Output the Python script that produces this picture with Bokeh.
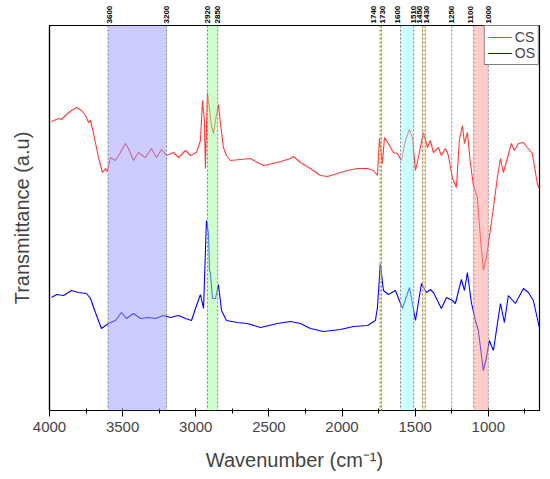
import math
from bokeh.plotting import figure
from bokeh.layouts import column
from bokeh.core.properties import value
from bokeh.models import Range1d, BoxAnnotation, Span, SingleIntervalTicker, FixedTicker, Legend, LegendItem
from bokeh.embed import file_html
from bokeh.resources import INLINE

# ---- data (arbitrary transmittance units) ----
wn_cs = [3986, 3938, 3918, 3891, 3850, 3815, 3781, 3754, 3733, 3720, 3699, 3665, 3638, 3617, 3604,
         3583, 3549, 3515, 3481, 3460, 3426, 3392, 3344, 3303, 3269, 3234, 3200, 3152, 3118, 3070,
         3036, 2995, 2968, 2954, 2941, 2934, 2920, 2893, 2879, 2865, 2845, 2831, 2811, 2790, 2763,
         2695, 2626, 2578, 2537, 2442, 2353, 2332, 2284, 2216, 2148, 2100, 2032, 1963, 1895, 1826,
         1785, 1758, 1744, 1724, 1710, 1683, 1649, 1621, 1594, 1567, 1539, 1519, 1498, 1478, 1444,
         1416, 1396, 1375, 1341, 1321, 1293, 1273, 1245, 1218, 1198, 1177, 1163, 1143, 1122, 1102,
         1075, 1054, 1034, 1013, 993, 965, 938, 917, 897, 870, 842, 822, 794, 760, 733, 699, 665, 651]
t_cs = [289, 292, 291, 295, 300, 303, 300, 295, 288, 290, 277, 253, 238, 242, 239,
        253, 250, 258, 267, 262, 250, 258, 253, 262, 253, 261, 255, 258, 253, 260,
        255, 258, 270, 310, 290, 242, 318, 285, 277, 290, 306, 287, 263, 255, 250,
        251, 252, 248, 245, 248, 252, 254, 248, 242, 235, 234, 237, 240, 242, 242,
        240, 235, 272, 247, 273, 267, 258, 257, 250, 270, 281, 273, 240, 253, 278,
        263, 270, 258, 263, 255, 262, 255, 232, 223, 270, 285, 267, 278, 247, 225,
        213, 173, 140, 153, 173, 203, 233, 252, 238, 252, 267, 260, 267, 268, 263, 257, 227, 222]

wn_os = [3986, 3952, 3904, 3850, 3802, 3747, 3720, 3686, 3645, 3597, 3549, 3508, 3474, 3426, 3378,
         3323, 3276, 3221, 3173, 3118, 3070, 3029, 3002, 2968, 2947, 2927, 2913, 2906, 2900, 2886,
         2865, 2845, 2824, 2790, 2715, 2647, 2558, 2442, 2353, 2284, 2216, 2127, 2011, 1922, 1826,
         1772, 1758, 1738, 1717, 1683, 1635, 1587, 1539, 1498, 1457, 1423, 1396, 1375, 1321, 1286,
         1245, 1225, 1184, 1163, 1143, 1116, 1088, 1068, 1034, 1013, 993, 965, 917, 890, 863,
         815, 760, 726, 692, 651]
t_os = [113, 116, 115, 120, 118, 117, 112, 98, 82, 87, 90, 98, 92, 97, 92,
        93, 92, 95, 93, 95, 92, 90, 102, 116, 102, 190, 177, 140, 138, 112,
        112, 126, 100, 90, 88, 87, 83, 87, 89, 87, 82, 79, 81, 84, 85,
        90, 103, 147, 120, 116, 120, 102, 123, 90, 127, 118, 121, 118, 102, 113,
        110, 107, 131, 120, 138, 108, 90, 80, 40, 53, 70, 60, 107, 88, 115,
        107, 122, 118, 110, 83]

mark_wn = [3600, 3200, 2920, 2850, 1740, 1730, 1600, 1510, 1450, 1430, 1250, 1100, 1000]
mark_text = [str(w) for w in mark_wn]
band_lo = [3200, 2850, 1730, 1510, 1430, 1000]
band_hi = [3600, 2920, 1740, 1600, 1450, 1100]
band_colors = ["#9999ff", "#99ff99", "#ffff66", "#99ffff", "#ffcc66", "#ff9999"]
label_nudge = [1, 0, 0, 0, -7, 1, -3, 0, -3, 1, 0, -3, 0]  # px, keeps labels apart

FONT = "Liberation Sans"
W = 545
ML, MR = 49, 6

xr = Range1d(4000, 650)

# --- strip above the frame holding the wavenumber markers ---
top = figure(width=W, height=24, output_backend="svg", toolbar_location=None,
             x_range=xr, y_range=Range1d(0, 24), x_axis_location=None, y_axis_location=None,
             min_border_left=ML, min_border_right=MR, min_border_top=0, min_border_bottom=0)
top.grid.visible = False
top.outline_line_color = None
top.text(x=mark_wn, y=1, text=mark_text, angle=math.pi / 2, x_offset=label_nudge,
         text_align="left", text_baseline="middle", text_font=value(FONT),
         text_font_size=value("8px"), text_font_style="bold", text_color="black")

# --- main plot ---
p = figure(width=W, height=451, output_backend="svg", toolbar_location=None,
           x_range=xr, y_range=Range1d(0, 385),
           min_border_left=ML, min_border_right=MR, min_border_top=1, min_border_bottom=65)
p.grid.visible = False
p.outline_line_color = "black"
p.outline_line_width = 1.2
p.background_fill_color = "white"

r_cs = p.line(wn_cs, t_cs, line_color="#ff3a3a", line_width=1.1)
r_os = p.line(wn_os, t_os, line_color="#0000ff", line_width=1.1)

for lo, hi, c in zip(band_lo, band_hi, band_colors):
    p.add_layout(BoxAnnotation(left=lo, right=hi, fill_color=c, fill_alpha=0.5, line_color=None))

for w in mark_wn:
    p.add_layout(Span(location=w, dimension="height", line_color="#808080",
                      line_dash="2 2", line_width=1))

xa = p.xaxis[0]
xa.ticker = SingleIntervalTicker(interval=500, num_minor_ticks=2)
xa.axis_label = "Wavenumber (cm\u207b\u00b9)"
xa.axis_label_text_font = FONT
xa.axis_label_text_font_style = "normal"
xa.axis_label_text_font_size = "20px"
xa.axis_label_standoff = 14
xa.major_label_text_font = FONT
xa.major_label_text_font_size = "15px"
xa.major_label_standoff = 5
xa.major_tick_in = 2
xa.major_tick_out = 6
xa.minor_tick_in = 2
xa.minor_tick_out = 3
xa.axis_line_width = 1.2

ya = p.yaxis[0]
ya.ticker = FixedTicker(ticks=[])
ya.axis_label = "Transmittance (a.u)"
ya.axis_label_text_font = FONT
ya.axis_label_text_font_style = "normal"
ya.axis_label_text_font_size = "20px"
ya.axis_label_standoff = 17
ya.axis_line_width = 1.2

legend = Legend(items=[LegendItem(label="CS", renderers=[r_cs]),
                       LegendItem(label="OS", renderers=[r_os])],
                location="top_right", label_text_font=FONT, label_text_font_size="14px",
                glyph_width=24, glyph_height=14, label_standoff=3, padding=3, spacing=0,
                margin=0, border_line_color="black", border_line_width=1,
                label_height=14)
p.add_layout(legend)

layout = column(top, p, spacing=0)
open("out.html", "w").write(file_html(layout, INLINE))
